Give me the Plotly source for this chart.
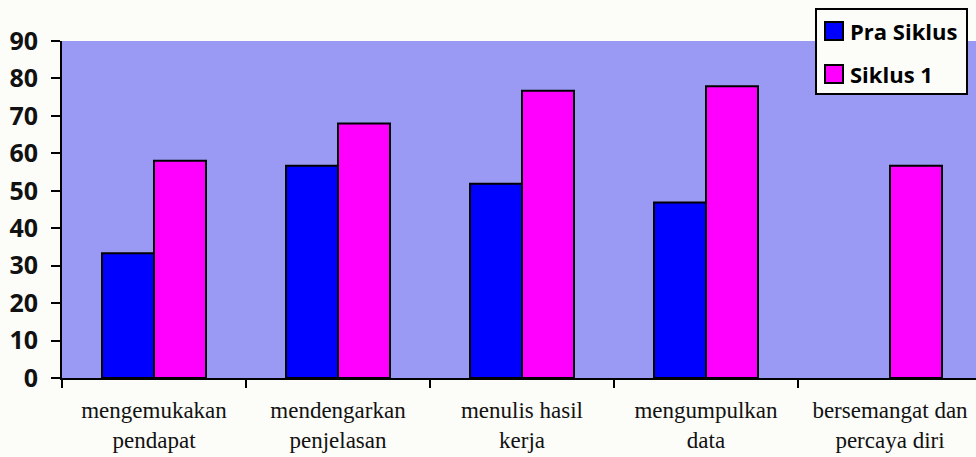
import plotly.graph_objects as go

# Observed aspects (two-line category labels)
categories = [
    "mengemukakan<br>pendapat",
    "mendengarkan<br>penjelasan",
    "menulis hasil<br>kerja",
    "mengumpulkan<br>data",
    "bersemangat dan<br>percaya diri",
]
series_names = ["Pra Siklus", "Siklus 1"]
pra_siklus = [33.3, 56.7, 51.9, 46.9, None]
siklus_1 = [58.0, 68.0, 76.7, 77.9, 56.7]
y_ticks = [0, 10, 20, 30, 40, 50, 60, 70, 80, 90]

colors = ["#0000FF", "#FF00FF"]
page_bg = "#FCFCF8"

# plot-area geometry in pixels (used to place the hand-drawn legend)
W, H = 976, 457
ML, MR, MT, MB = 62, 0, 41, 79
PW, PH = W - ML - MR, H - MT - MB


def px_x(px):
    return (px - ML) / PW


def px_y(py):
    return (H - MB - py) / PH


fig = go.Figure()
for name, vals, col in zip(series_names, [pra_siklus, siklus_1], colors):
    fig.add_trace(go.Bar(
        x=categories, y=vals, name=name,
        marker=dict(color=col, line=dict(color="black", width=2)),
        showlegend=False,
    ))

# legend box drawn with shapes so the swatches can be full size
shapes = [dict(type="rect", xref="paper", yref="paper",
               x0=px_x(816), x1=px_x(967), y0=px_y(94), y1=px_y(9),
               fillcolor=page_bg, line=dict(color="black", width=2))]
annotations = []
for i, (name, col) in enumerate(zip(series_names, colors)):
    cy = 31 + i * 43
    shapes.append(dict(type="rect", xref="paper", yref="paper",
                       x0=px_x(825), x1=px_x(843), y0=px_y(cy + 9), y1=px_y(cy - 9),
                       fillcolor=col, line=dict(color="black", width=2)))
    annotations.append(dict(xref="paper", yref="paper", x=px_x(848), y=px_y(cy),
                            xanchor="left", yanchor="middle", showarrow=False,
                            text="<b>%s</b>" % name,
                            font=dict(family="Open Sans", size=22, color="black")))

fig.update_layout(
    width=W, height=H,
    margin=dict(l=ML, r=MR, t=MT, b=MB, pad=0),
    paper_bgcolor=page_bg,
    plot_bgcolor="#9A9AF4",
    barmode="group",
    bargap=0.435,
    bargroupgap=0,
    shapes=shapes,
    annotations=annotations,
    xaxis=dict(
        range=[-0.5, 4.5 - (920 - PW) / 184.0],
        tickson="boundaries",
        ticks="outside", ticklen=8, tickwidth=2, tickcolor="black",
        showline=True, linecolor="black", linewidth=2,
        showgrid=False, zeroline=False,
        tickfont=dict(family="Liberation Serif", size=23, color="#111111"),
        ticklabelstandoff=10,
    ),
    yaxis=dict(
        range=[0, 90],
        tickvals=y_ticks,
        ticks="outside", ticklen=9, tickwidth=2, tickcolor="black",
        showline=True, linecolor="black", linewidth=2,
        showgrid=False, zeroline=False,
        tickfont=dict(family="Open Sans", size=25, color="#111111", weight="bold"),
        ticklabelstandoff=8,
    ),
)

fig.write_html("out.html")
